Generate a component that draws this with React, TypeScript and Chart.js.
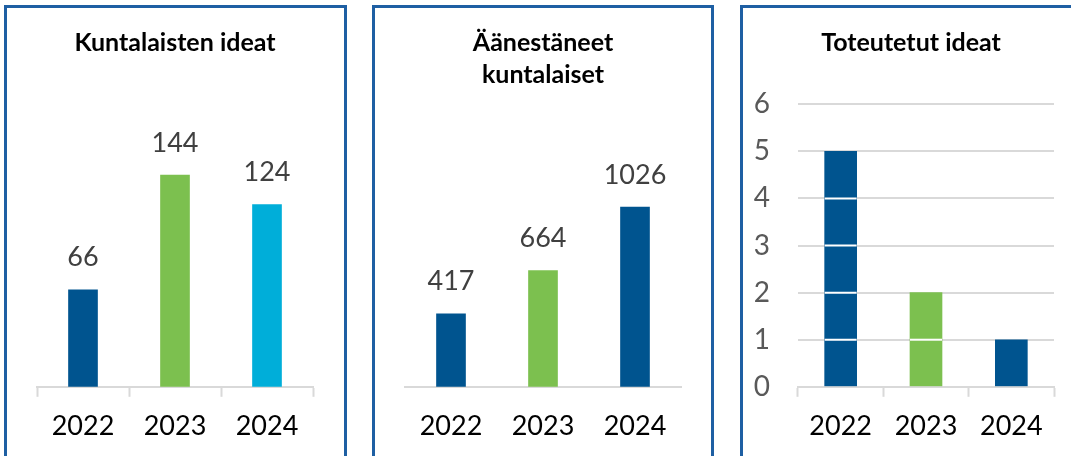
import React, { useEffect, useRef } from "react";
import { Chart, registerables } from "chart.js";

Chart.register(...registerables);

// ---- data ----
const years = ["2022", "2023", "2024"];
const ideasTitle = "Kuntalaisten ideat";
const ideasValues = [66, 144, 124];
const votersTitle = ["Äänestäneet", "kuntalaiset"];
const votersValues = [417, 664, 1026];
const implementedTitle = "Toteutetut ideat";
const implementedValues = [5, 2, 1];
const implementedTickMax = 6;

// ---- styles ----
const DARK = "#00548F";
const GREEN = "#7CC04F";
const CYAN = "#00AED9";
const ideasColors = [DARK, GREEN, CYAN];
const votersColors = [DARK, GREEN, DARK];
const implementedColors = [DARK, GREEN, DARK];
const FONT = "Lato, 'Open Sans', sans-serif";
const TITLE_SIZE = 25;
const AXIS_GREY = "#D9D9D9";
const BORDER_BLUE = "#1E5FA3";

const valueLabels = {
  id: "valueLabels",
  afterDatasetsDraw(chart: any, _args: any, opts: any) {
    if (!opts || !opts.display) return;
    const { ctx } = chart;
    const meta = chart.getDatasetMeta(0);
    const data = chart.data.datasets[0].data;
    ctx.save();
    ctx.font = `27px ${FONT}`;
    ctx.fillStyle = "#404040";
    ctx.textAlign = "center";
    ctx.textBaseline = "middle";
    meta.data.forEach((el: any, i: number) => {
      ctx.fillText(String(data[i]), el.x, el.y - 32);
    });
    ctx.restore();
  },
};

const barGridCut = {
  id: "barGridCut",
  afterDatasetsDraw(chart: any, _args: any, opts: any) {
    if (!opts || !opts.display) return;
    const { ctx } = chart;
    const yScale = chart.scales.y;
    const meta = chart.getDatasetMeta(0);
    ctx.save();
    ctx.strokeStyle = "#FFFFFF";
    ctx.lineWidth = 2;
    yScale.ticks.forEach((t: any) => {
      if (t.value <= 0) return;
      const py = yScale.getPixelForValue(t.value);
      meta.data.forEach((el: any) => {
        if (py > el.y + 1) {
          ctx.beginPath();
          ctx.moveTo(el.x - el.width / 2, py);
          ctx.lineTo(el.x + el.width / 2, py);
          ctx.stroke();
        }
      });
    });
    ctx.restore();
  },
};

// title drawn at a horizontal offset from the plot centre (used where the
// y-axis labels make the built-in title off-centre)
const offsetTitle = {
  id: "offsetTitle",
  afterDraw(chart: any, _args: any, opts: any) {
    if (!opts || !opts.text) return;
    const { ctx, chartArea } = chart;
    ctx.save();
    ctx.font = `bold ${TITLE_SIZE}px ${FONT}`;
    ctx.fillStyle = "#000000";
    ctx.textAlign = "center";
    ctx.textBaseline = "middle";
    ctx.fillText(opts.text, (chartArea.left + chartArea.right) / 2 + opts.dx, opts.y);
    ctx.restore();
  },
};

function xAxis(showTicks: boolean) {
  return {
    grid: {
      drawOnChartArea: false,
      drawTicks: true,
      tickLength: 10,
      tickWidth: 2,
      tickColor: showTicks ? AXIS_GREY : "rgba(0,0,0,0)",
    },
    border: { display: true, color: AXIS_GREY, width: 2 },
    ticks: { color: "#000000", font: { family: FONT, size: 27 }, padding: 13.4 },
  };
}

function titleOpts(text: any, lineHeight: number, padTop: number, padBottom: number) {
  return {
    display: true,
    text,
    color: "#000000",
    font: { family: FONT, size: TITLE_SIZE, weight: "bold" as const, lineHeight },
    padding: { top: padTop, bottom: padBottom },
  };
}

function makeIdeas(canvas: HTMLCanvasElement) {
  return new Chart(canvas, {
    type: "bar",
    data: {
      labels: years,
      datasets: [{ data: ideasValues, backgroundColor: ideasColors, barThickness: 29 }],
    },
    plugins: [valueLabels],
    options: {
      responsive: false,
      animation: false,
      devicePixelRatio: 1,
      layout: { padding: { left: 29, right: 29, top: 0, bottom: 0 } },
      plugins: {
        legend: { display: false },
        tooltip: { enabled: false },
        title: titleOpts(ideasTitle, 1.2, 19, 93.6),
        valueLabels: { display: true },
      } as any,
      scales: {
        x: xAxis(true) as any,
        y: { display: false, min: 0, max: 160 },
      },
    },
  });
}

function makeVoters(canvas: HTMLCanvasElement) {
  return new Chart(canvas, {
    type: "bar",
    data: {
      labels: years,
      datasets: [{ data: votersValues, backgroundColor: votersColors, barThickness: 29 }],
    },
    plugins: [valueLabels],
    options: {
      responsive: false,
      animation: false,
      devicePixelRatio: 1,
      layout: { padding: { left: 30, right: 30, top: 0, bottom: 0 } },
      plugins: {
        legend: { display: false },
        tooltip: { enabled: false },
        title: titleOpts(votersTitle, 32 / TITLE_SIZE, 18, 85.6),
        valueLabels: { display: true },
      } as any,
      scales: {
        x: xAxis(false) as any,
        y: { display: false, min: 0, max: 1200 },
      },
    },
  });
}

function makeImplemented(canvas: HTMLCanvasElement) {
  return new Chart(canvas, {
    type: "bar",
    data: {
      labels: years,
      datasets: [{ data: implementedValues, backgroundColor: implementedColors, barThickness: 32 }],
    },
    plugins: [barGridCut, offsetTitle],
    options: {
      responsive: false,
      animation: false,
      devicePixelRatio: 1,
      layout: { padding: { left: 0, right: 17, top: 95.3, bottom: 0 } },
      plugins: {
        legend: { display: false },
        tooltip: { enabled: false },
        title: { display: false },
        offsetTitle: { text: implementedTitle, dx: -15, y: 34 },
        barGridCut: { display: true },
      } as any,
      scales: {
        x: xAxis(true) as any,
        y: {
          min: 0,
          max: implementedTickMax,
          afterFit: (scale: any) => {
            scale.width = 55;
          },
          grid: { color: AXIS_GREY, lineWidth: 2, drawTicks: false },
          border: { display: false },
          ticks: {
            stepSize: 1,
            color: "#595959",
            font: { family: FONT, size: 28 },
            padding: 28,
          },
        } as any,
      },
    },
  });
}

function ChartCanvas(props: {
  make: (c: HTMLCanvasElement) => Chart;
  left: number;
  top: number;
  width: number;
  height: number;
}) {
  const ref = useRef<HTMLCanvasElement | null>(null);
  useEffect(() => {
    if (!ref.current) return;
    const chart = props.make(ref.current);
    return () => chart.destroy();
  }, []);
  return (
    <canvas
      ref={ref}
      width={props.width}
      height={props.height}
      style={{
        position: "absolute",
        left: props.left,
        top: props.top,
        width: props.width,
        height: props.height,
      }}
    />
  );
}

function Panel(props: { left: number; width: number }) {
  return (
    <div
      style={{
        position: "absolute",
        left: props.left,
        top: 5,
        width: props.width,
        height: 480,
        border: `3px solid ${BORDER_BLUE}`,
        boxSizing: "border-box",
      }}
    />
  );
}

export default function App() {
  return (
    <div
      style={{
        position: "fixed",
        left: 0,
        top: 0,
        width: 1071,
        height: 456,
        overflow: "hidden",
        background: "#FFFFFF",
      }}
    >
      <Panel left={4} width={343} />
      <Panel left={372} width={342} />
      <Panel left={740} width={400} />
      <ChartCanvas make={makeIdeas} left={8} top={9} width={334} height={447} />
      <ChartCanvas make={makeVoters} left={375} top={9} width={336} height={447} />
      <ChartCanvas make={makeImplemented} left={743} top={9} width={328} height={447} />
    </div>
  );
}
